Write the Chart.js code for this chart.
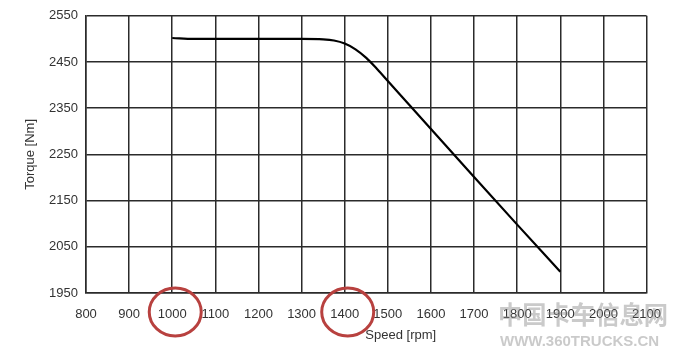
<!DOCTYPE html>
<html>
<head>
<meta charset="utf-8">
<script src="https://cdn.jsdelivr.net/npm/chart.js@4/dist/chart.umd.min.js"></script>
<style>
  html, body { margin: 0; padding: 0; background: #fff; }
  #wrap { width: 675px; height: 353px; }
</style>
</head>
<body>
<div id="wrap"><canvas id="torqueChart" width="675" height="353"></canvas></div>
<script>
// Torque curve
const speeds = [1000, 1050, 1100, 1200, 1300, 1350, 1375, 1400, 1425, 1450, 1475, 1500, 1550, 1600, 1700, 1800, 1900];
const torques = [2502, 2500, 2500, 2500, 2500, 2499, 2496.5, 2490, 2477.5, 2459, 2435, 2409, 2357, 2305, 2201, 2098, 1996];

const xMin = 800, xMax = 2100, xStep = 100;
const yMin = 1950, yMax = 2550, yStep = 100;
const circled = [1000, 1400];

const labelFont = "13px 'Liberation Sans', Arial, sans-serif";
const gridColor = "#2b2b2b";

// axis titles, red circles and the watermark on top
const extras = {
  id: "extras",
  afterDraw(chart) {
    const ctx = chart.ctx;
    const area = chart.chartArea;
    const xs = chart.scales.x;
    ctx.save();
    ctx.fillStyle = "#333";
    ctx.font = labelFont;
    ctx.textAlign = "center";
    ctx.textBaseline = "middle";
    ctx.fillText("Speed [rpm]", xs.getPixelForValue(1530), area.bottom + 42);

    ctx.save();
    ctx.translate(30, (area.top + area.bottom) / 2);
    ctx.rotate(-Math.PI / 2);
    ctx.fillText("Torque [Nm]", 0, 0);
    ctx.restore();

    ctx.strokeStyle = "#b8413f";
    ctx.lineWidth = 3;
    for (const v of circled) {
      ctx.beginPath();
      ctx.ellipse(xs.getPixelForValue(v) + 3, area.bottom + 19, 26, 24, 0, 0, Math.PI * 2);
      ctx.stroke();
    }

    ctx.globalAlpha = 0.45;
    ctx.fillStyle = "#8a8a8a";
    ctx.font = "bold 25px 'Noto Sans CJK SC'";
    ctx.textAlign = "left";
    ctx.fillText("中国卡车信息网", 498, 314, 170);
    ctx.font = "bold 15px 'Liberation Sans', sans-serif";
    ctx.fillText("WWW.360TRUCKS.CN", 500, 342, 165);
    ctx.restore();
  }
};

new Chart(document.getElementById("torqueChart").getContext("2d"), {
  type: "line",
  data: {
    datasets: [{
      data: speeds.map((s, i) => ({ x: s, y: torques[i] })),
      borderColor: "#000",
      borderWidth: 2.2,
      pointRadius: 0,
      cubicInterpolationMode: "monotone",
      fill: false
    }]
  },
  options: {
    responsive: false,
    animation: false,
    layout: { padding: { top: 14, right: 27, left: 0, bottom: 0 } },
    plugins: {
      legend: { display: false },
      tooltip: { enabled: false }
    },
    scales: {
      x: {
        type: "linear",
        min: xMin,
        max: xMax,
        afterFit: (s) => { s.height = 60; },
        grid: { color: gridColor, lineWidth: 1.5, drawTicks: false },
        border: { color: gridColor, width: 1.5 },
        ticks: {
          stepSize: xStep,
          padding: 14,
          color: "#333",
          font: { family: "'Liberation Sans', Arial, sans-serif", size: 13 },
          maxRotation: 0,
          autoSkip: false,
          callback: (v) => String(v)
        }
      },
      y: {
        min: yMin,
        max: yMax,
        afterFit: (s) => { s.width = 86; },
        grid: { color: gridColor, lineWidth: 1.5, drawTicks: false },
        border: { color: gridColor, width: 1.5 },
        ticks: {
          stepSize: yStep,
          padding: 8,
          color: "#333",
          font: { family: "'Liberation Sans', Arial, sans-serif", size: 13 },
          callback: (v) => String(v)
        }
      }
    }
  },
  plugins: [extras]
});
</script>
</body>
</html>
